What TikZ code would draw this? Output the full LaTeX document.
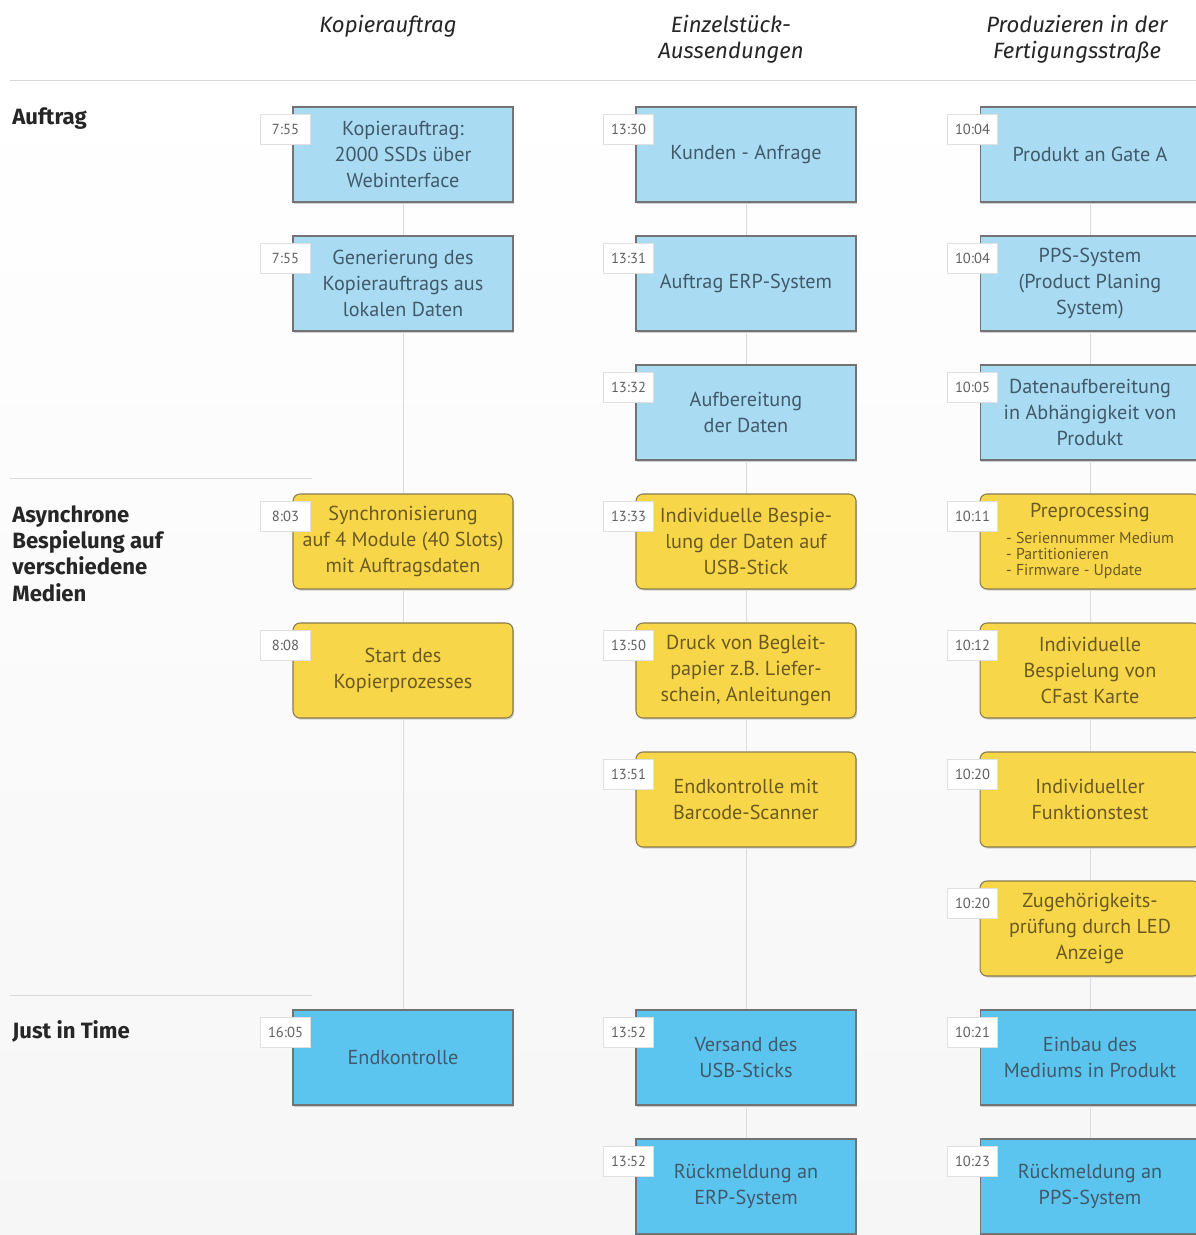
\documentclass[tikz,border=0pt]{standalone}
\usepackage{fontspec}
\setmainfont{PT Sans}
\newfontfamily\headfont{Fira Sans}
\usetikzlibrary{shadows}
\definecolor{lblue}{HTML}{A9DCF2}
\definecolor{dblue}{HTML}{5CC5EF}
\definecolor{yel}{HTML}{F8D64A}
\definecolor{bluetxt}{HTML}{41596A}
\definecolor{yeltxt}{HTML}{6A5A20}
\tikzset{
  box/.style={minimum width=4.4cm, minimum height=1.9cm, inner sep=2pt, align=center,
    line width=.6pt, font=\fontsize{11.5}{14.8}\selectfont,
    drop shadow={shadow xshift=.7pt, shadow yshift=-.9pt, opacity=.35}},
  blu/.style={box, fill=lblue, draw=black!55, text=bluetxt},
  hot/.style={box, fill=dblue, draw=black!55, text=bluetxt},
  yel/.style={box, fill=yel, draw=yeltxt!80, text=yeltxt, rounded corners=.14cm},
  tag/.style={draw=gray!25, fill=white, minimum width=1cm, minimum height=.6cm, inner sep=1pt,
    text=gray!75!black, font=\fontsize{8.3}{9}\selectfont},
  link/.style={draw=gray!28, line width=.45pt},
  sep/.style={draw=gray!30, line width=.45pt},
  head/.style={font=\headfont\itshape\fontsize{12.6}{14.8}\selectfont, text=black!85, align=center},
  lbl/.style={font=\headfont\bfseries\fontsize{12.6}{15}\selectfont, text=black!85, align=left, anchor=north west, inner sep=0pt}
}
\begin{document}
\begin{tikzpicture}[x=.02cm, y=-.02cm]
\useasboundingbox (0,0) rectangle (1196,1235);
\fill[white] (0,0) rectangle (1196,80);
\shade[top color=white, bottom color=gray!7] (0,80) rectangle (1196,1235);
\draw[sep] (10,80) -- (1196,80) (10,478) -- (312,478) (10,995) -- (312,995);
% spalten
\path (388,26) node[head] (h1) {Kopierauftrag}
  (731,39) node[head] (h2) {Einzelstück-\\Aussendungen}
  (1077,39) node[head] (h3) {Produzieren in der\\Fertigungsstraße};
% zeilen
\path (12,107) node[lbl] (l1) {Auftrag}
  (12,505) node[lbl] (l2) {Asynchrone\\Bespielung auf\\verschiedene\\Medien}
  (12,1020) node[lbl] (l3) {Just in Time};
\foreach \n/\x/\rw/\st/\tm/\txt in {
  k/403/1/blu/7:55/{Kopierauftrag:\\2000 SSDs über\\Webinterface},
  k/403/2/blu/7:55/{Generierung des\\Kopierauftrags aus\\lokalen Daten},
  k/403/4/yel/8:03/{Synchronisierung\\auf 4 Module (40 Slots)\\mit Auftragsdaten},
  k/403/5/yel/8:08/{Start des\\Kopierprozesses},
  k/403/8/hot/16:05/{Endkontrolle},
  e/746/1/blu/13:30/{Kunden - Anfrage},
  e/746/2/blu/13:31/{Auftrag ERP-System},
  e/746/3/blu/13:32/{Aufbereitung\\der Daten},
  e/746/4/yel/13:33/{Individuelle Bespie-\\lung der Daten auf\\USB-Stick},
  e/746/5/yel/13:50/{Druck von Begleit-\\papier z.B. Liefer-\\schein, Anleitungen},
  e/746/6/yel/13:51/{Endkontrolle mit\\Barcode-Scanner},
  e/746/8/hot/13:52/{Versand des\\USB-Sticks},
  e/746/9/hot/13:52/{Rückmeldung an\\ERP-System},
  f/1090/1/blu/10:04/{Produkt an Gate A},
  f/1090/2/blu/10:04/{PPS-System\\(Product Planing\\System)},
  f/1090/3/blu/10:05/{Datenaufbereitung\\in Abhängigkeit von\\Produkt},
  f/1090/4/yel/10:11/{Preprocessing\\{\fontsize{9}{8.4}\selectfont\begin{tabular}[t]{@{}l@{}}- Seriennummer Medium\\- Partitionieren\\- Firmware - Update\end{tabular}}},
  f/1090/5/yel/10:12/{Individuelle\\Bespielung von\\CFast Karte},
  f/1090/6/yel/10:20/{Individueller\\Funktionstest},
  f/1090/7/yel/10:20/{Zugehörigkeits-\\prüfung durch LED\\Anzeige},
  f/1090/8/hot/10:21/{Einbau des\\Mediums in Produkt},
  f/1090/9/hot/10:23/{Rückmeldung an\\PPS-System}}{
  \node[\st] (\n\rw) at (\x,25.5+129*\rw) {\txt};
  \node[tag] (t\n\rw) at ([shift={(-7,23)}]\n\rw.north west) {\tm};
}
\foreach \a/\b in {k1/k2,k2/k4,k4/k5,k5/k8,e1/e2,e2/e3,e3/e4,e4/e5,e5/e6,e6/e8,e8/e9,
  f1/f2,f2/f3,f3/f4,f4/f5,f5/f6,f6/f7,f7/f8,f8/f9}
  \draw[link] (\a) -- (\b);
\end{tikzpicture}
\end{document}
